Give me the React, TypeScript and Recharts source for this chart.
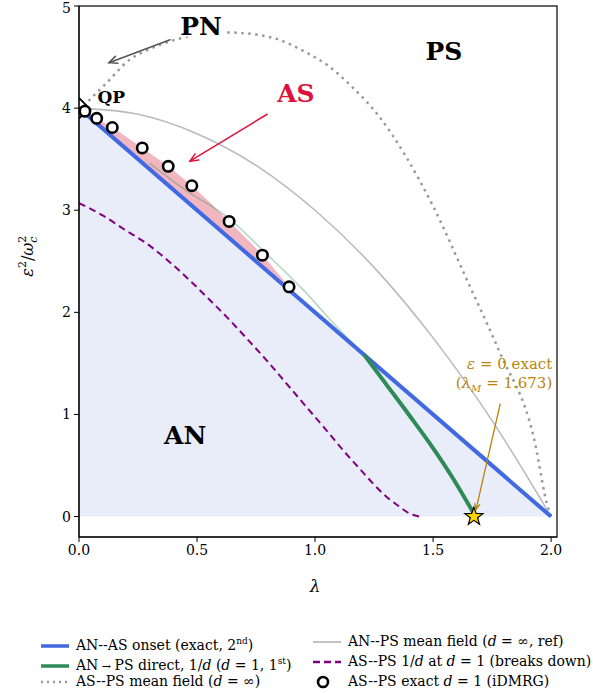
import React from 'react';
import {
  ComposedChart, Line, Area, Scatter, XAxis, YAxis,
} from 'recharts';

// AN--AS onset (exact, 2nd order)
const onsetLam = [0, 2.0];
const onsetEps = [4.0, 0.0];

// AS region (between onset and exact AS--PS boundary)
const asLam = [0.03, 0.075, 0.141, 0.268, 0.378, 0.478, 0.636, 0.777, 0.89];
const asLow = [3.94, 3.85, 3.718, 3.464, 3.244, 3.044, 2.728, 2.446, 2.22];
const asHigh = [3.97, 3.9, 3.81, 3.61, 3.43, 3.24, 2.89, 2.56, 2.25];

// AN -> PS direct, 1/d (d=1, 1st order)
const directLam = [1.208, 1.3, 1.4, 1.5, 1.58, 1.675];
const directEps = [1.585, 1.3, 0.99, 0.67, 0.39, 0.02];
// same curve, continued where it is not physical (faint)
const directGhostLam = [0.3, 0.45, 0.63, 0.8, 0.95, 1.1, 1.208];
const directGhostEps = [3.46, 3.2, 2.93, 2.56, 2.22, 1.84, 1.585];

// AN--PS mean field (d = inf, ref)
const mfRefLam = [0, 0.25, 0.5, 0.75, 1.0, 1.25, 1.5, 1.75, 2.0];
const mfRefEps = [4.0, 3.94, 3.75, 3.44, 3.0, 2.44, 1.75, 0.94, 0.0];

// AS--PS mean field (d = inf)
const mfAsLam = [0.02, 0.04, 0.07, 0.11, 0.212, 0.3, 0.424, 0.53, 0.636, 0.75, 0.847, 0.95, 1.059, 1.16, 1.271, 1.384, 1.5, 1.643, 1.784, 1.925, 1.989, 2.0];
const mfAsEps = [4.02, 4.07, 4.14, 4.23, 4.47, 4.58, 4.68, 4.73, 4.74, 4.72, 4.67, 4.56, 4.41, 4.2, 3.92, 3.53, 3.04, 2.32, 1.6, 0.79, 0.07, 0.0];

// AS--PS 1/d at d=1 (breaks down)
const pertLam = [0, 0.1, 0.2, 0.283, 0.4, 0.466, 0.55, 0.636, 0.72, 0.791, 0.88, 0.961, 1.05, 1.13, 1.2, 1.243, 1.3, 1.356, 1.4, 1.441];
const pertEps = [3.07, 2.95, 2.8, 2.68, 2.46, 2.32, 2.13, 1.93, 1.72, 1.54, 1.3, 1.08, 0.84, 0.62, 0.44, 0.33, 0.2, 0.1, 0.03, 0.0];

// AS--PS exact d=1 (iDMRG)
const dmrgLam = [0.025, 0.075, 0.141, 0.268, 0.378, 0.478, 0.636, 0.777, 0.89];
const dmrgEps = [3.97, 3.9, 3.81, 3.61, 3.43, 3.24, 2.89, 2.56, 2.25];

// QP wedge outline
const qpLam = [0, 0.047, 0];
const qpEps = [4.1, 3.99, 3.9];

// eps = 0 exact point
const lambdaM = 1.673;

const xTicks = [0, 0.5, 1.0, 1.5, 2.0];
const yTicks = [0, 1, 2, 3, 4, 5];

const X_DOMAIN: [number, number] = [0, 2.025];
const Y_DOMAIN: [number, number] = [-0.2, 5];

const W = 593;
const H = 600;
const M = { top: 6, right: 36, left: 0, bottom: 0 };
const Y_AXIS_W = 79;
const X_AXIS_H = 63;
const PLOT = {
  left: M.left + Y_AXIS_W,
  top: M.top,
  width: W - M.left - Y_AXIS_W - M.right,
  height: H - M.top - M.bottom - X_AXIS_H,
};

const zip = (xs: number[], ys: number[]) => xs.map((x, i) => ({ x, y: ys[i] }));

const onsetData = zip(onsetLam, onsetEps);
const asData = asLam.map((x, i) => ({ x, band: [asLow[i], asHigh[i]] }));
const directData = zip(directLam, directEps);
const ghostData = zip(directGhostLam, directGhostEps);
const mfRefData = zip(mfRefLam, mfRefEps);
const mfAsData = zip(mfAsLam, mfAsEps);
const pertData = zip(pertLam, pertEps);
const dmrgData = zip(dmrgLam, dmrgEps);
const qpData = zip(qpLam, qpEps);
const qpFill = [
  { x: qpLam[0], band: [qpEps[2], qpEps[0]] },
  { x: qpLam[1], band: [qpEps[1], qpEps[1]] },
];
const starData = [{ x: lambdaM, y: 0 }];

const SERIF = '"DejaVu Serif", serif';

// data -> pixel, only for the annotation overlay
const px = (x: number) => PLOT.left + ((x - X_DOMAIN[0]) / (X_DOMAIN[1] - X_DOMAIN[0])) * PLOT.width;
const py = (y: number) => PLOT.top + ((Y_DOMAIN[1] - y) / (Y_DOMAIN[1] - Y_DOMAIN[0])) * PLOT.height;

function Arrow({ from, to, color, width = 1.5, head = 9 }: any) {
  const x1 = px(from[0]), y1 = py(from[1]);
  const x2 = px(to[0]), y2 = py(to[1]);
  const a = Math.atan2(y2 - y1, x2 - x1);
  const s = 0.42;
  const h1 = [x2 - head * Math.cos(a - s), y2 - head * Math.sin(a - s)];
  const h2 = [x2 - head * Math.cos(a + s), y2 - head * Math.sin(a + s)];
  return (
    <g stroke={color} strokeWidth={width} fill="none" strokeLinecap="round">
      <line x1={x1} y1={y1} x2={x2} y2={y2} />
      <polyline points={`${h1[0]},${h1[1]} ${x2},${y2} ${h2[0]},${h2[1]}`} />
    </g>
  );
}

// text + arrows + frame, drawn over the chart
function Overlay() {
  const gold = '#b8860b';
  return (
    <svg width={W} height={H} style={{ position: 'absolute', left: 0, top: 0, pointerEvents: 'none' }} fontFamily={SERIF}>
      <rect x={PLOT.left} y={PLOT.top} width={PLOT.width} height={PLOT.height} fill="none" stroke="#000" strokeWidth={1.2} />
      <rect x={px(0.517) - 22} y={py(4.72) - 19} width={44} height={21} fill="#fff" />
      <text x={px(0.517)} y={py(4.72)} textAnchor="middle" fontSize={25} fontWeight="bold" fill="#000">PN</text>
      <text x={px(1.546)} y={py(4.47)} textAnchor="middle" fontSize={25} fontWeight="bold" fill="#000">PS</text>
      <text x={px(0.919)} y={py(4.06)} textAnchor="middle" fontSize={25} fontWeight="bold" fill="#dc143c">AS</text>
      <text x={px(0.45)} y={py(0.71)} textAnchor="middle" fontSize={25} fontWeight="bold" fill="#000">AN</text>
      <text x={px(0.137)} y={py(4.05)} textAnchor="middle" fontSize={17} fontWeight="bold" fill="#000">QP</text>
      <Arrow from={[0.386, 4.67]} to={[0.127, 4.445]} color="#555" />
      <Arrow from={[0.797, 3.94]} to={[0.47, 3.48]} color="#dc143c" />
      <text x={px(2.005)} y={py(1.45)} textAnchor="end" fontSize={15} fill={gold}>
        <tspan fontStyle="italic">ε</tspan> = 0 exact
      </text>
      <text x={px(2.005)} y={py(1.26)} textAnchor="end" fontSize={15} fill={gold}>
        (<tspan fontStyle="italic">λ</tspan><tspan fontSize={10} dy={4} fontStyle="italic">M</tspan><tspan dy={-4}> = 1.673)</tspan>
      </text>
      <Arrow from={[1.784, 1.1]} to={[1.682, 0.07]} color={gold} width={1.3} head={6} />
      <text x={px(1.0)} y={592} textAnchor="middle" fontSize={17} fontStyle="italic" fill="#000">λ</text>
      <text transform={`translate(33, ${py(2.55)}) rotate(-90)`} textAnchor="middle" fontSize={16} fill="#000">
        <tspan fontStyle="italic">ε</tspan>
        <tspan fontSize={11} dy={-7}>2</tspan>
        <tspan dy={7}>/</tspan>
        <tspan fontStyle="italic">ω</tspan>
        <tspan fontSize={11} dy={-7}>2</tspan>
        <tspan fontSize={11} dx={-7} dy={11} fontStyle="italic">c</tspan>
      </text>
    </svg>
  );
}

const ringShape = (p: any) => (
  <circle cx={p.cx} cy={p.cy} r={5.2} fill="#fff" stroke="#000" strokeWidth={2.6} />
);

const starShape = (p: any) => {
  const pts: string[] = [];
  for (let i = 0; i < 10; i++) {
    const r = i % 2 === 0 ? 9.5 : 3.8;
    const a = -Math.PI / 2 + (i * Math.PI) / 5;
    pts.push(`${p.cx + r * Math.cos(a)},${p.cy + r * Math.sin(a)}`);
  }
  return <polygon points={pts.join(' ')} fill="#ffd700" stroke="#000" strokeWidth={1.2} />;
};

function LegendLine({ color, width = 3.5, dash }: any) {
  return (
    <svg width={30} height={10} style={{ verticalAlign: 'middle' }}>
      <line x1={1} y1={5} x2={29} y2={5} stroke={color} strokeWidth={width} strokeDasharray={dash} />
    </svg>
  );
}

function LegendRing() {
  return (
    <svg width={30} height={14} style={{ verticalAlign: 'middle' }}>
      <circle cx={11} cy={7} r={5} fill="#fff" stroke="#000" strokeWidth={2.6} />
    </svg>
  );
}

const sup = { fontSize: 9 };
const legendItems = [
  { left: 40, top: 631, sym: <LegendLine color="#4169e1" />, text: <>AN--AS onset (exact, 2<sup style={sup}>nd</sup>)</> },
  { left: 40, top: 651, sym: <LegendLine color="#2e8b57" />, text: <>AN<span style={{ fontSize: 11 }}> → </span>PS direct, 1/<i>d</i> (<i>d</i> = 1, 1<sup style={sup}>st</sup>)</> },
  { left: 40, top: 671, sym: <LegendLine color="#999" width={2.5} dash="2 4" />, text: <>AS--PS mean field (<i>d</i> = ∞)</> },
  { left: 312, top: 631, sym: <LegendLine color="#bbb" width={1.8} />, text: <>AN--PS mean field (<i>d</i> = ∞, ref)</> },
  { left: 312, top: 651, sym: <LegendLine color="#800080" width={2.5} dash="7 4" />, text: <>AS--PS 1/<i>d</i> at <i>d</i> = 1 (breaks down)</> },
  { left: 312, top: 671, sym: <LegendRing />, text: <>AS--PS exact <i>d</i> = 1 (iDMRG)</> },
];

export default function App() {
  return (
    <div style={{ position: 'absolute', left: 0, top: 0, width: W, height: 693, background: '#fff', fontFamily: SERIF }}>
      <ComposedChart width={W} height={H} margin={M}>
        <XAxis
          dataKey="x"
          type="number"
          domain={X_DOMAIN}
          ticks={xTicks}
          allowDataOverflow
          height={X_AXIS_H}
          tickSize={5}
          tickMargin={3}
          tickFormatter={(v: number) => v.toFixed(1)}
          stroke="#000"
          tick={{ fill: '#000', fontSize: 14, fontFamily: SERIF }}
        />
        <YAxis
          dataKey="y"
          type="number"
          domain={Y_DOMAIN}
          ticks={yTicks}
          allowDataOverflow
          width={Y_AXIS_W}
          tickSize={5}
          tickMargin={3}
          stroke="#000"
          tick={{ fill: '#000', fontSize: 14, fontFamily: SERIF }}
        />
        <Area data={onsetData} dataKey="y" type="linear" baseValue={0} fill="#e8edf9" fillOpacity={1} stroke="none" isAnimationActive={false} activeDot={false} />
        <Area data={asData} dataKey="band" type="monotone" fill="#f2b6c1" fillOpacity={1} stroke="none" isAnimationActive={false} activeDot={false} />
        <Line data={mfRefData} dataKey="y" type="monotone" stroke="#bbb" strokeWidth={1.6} dot={false} activeDot={false} isAnimationActive={false} />
        <Line data={mfAsData} dataKey="y" type="monotone" stroke="#999" strokeWidth={2.5} strokeDasharray="2.5 4.5" dot={false} activeDot={false} isAnimationActive={false} />
        <Line data={pertData} dataKey="y" type="monotone" stroke="#800080" strokeWidth={2} strokeDasharray="7 4.5" dot={false} activeDot={false} isAnimationActive={false} />
        <Line data={ghostData} dataKey="y" type="monotone" stroke="#2e8b57" strokeOpacity={0.35} strokeWidth={1.6} dot={false} activeDot={false} isAnimationActive={false} />
        <Line data={onsetData} dataKey="y" type="linear" stroke="#4169e1" strokeWidth={4} dot={false} activeDot={false} isAnimationActive={false} />
        <Line data={directData} dataKey="y" type="monotone" stroke="#2e8b57" strokeWidth={4} dot={false} activeDot={false} isAnimationActive={false} />
        <Area data={qpFill} dataKey="band" type="linear" fill="#fff" fillOpacity={1} stroke="none" isAnimationActive={false} activeDot={false} />
        <Line data={qpData} dataKey="y" type="linear" stroke="#000" strokeWidth={1.8} dot={false} activeDot={false} isAnimationActive={false} />
        <Scatter data={dmrgData} dataKey="y" shape={ringShape} isAnimationActive={false} />
        <Scatter data={starData} dataKey="y" shape={starShape} isAnimationActive={false} />
      </ComposedChart>
      <Overlay />
      {legendItems.map((it, i) => (
        <div key={i} style={{ position: 'absolute', left: it.left, top: it.top, fontSize: 14, lineHeight: '20px', whiteSpace: 'nowrap', color: '#000' }}>
          {it.sym}
          <span style={{ marginLeft: 6 }}>{it.text}</span>
        </div>
      ))}
    </div>
  );
}
